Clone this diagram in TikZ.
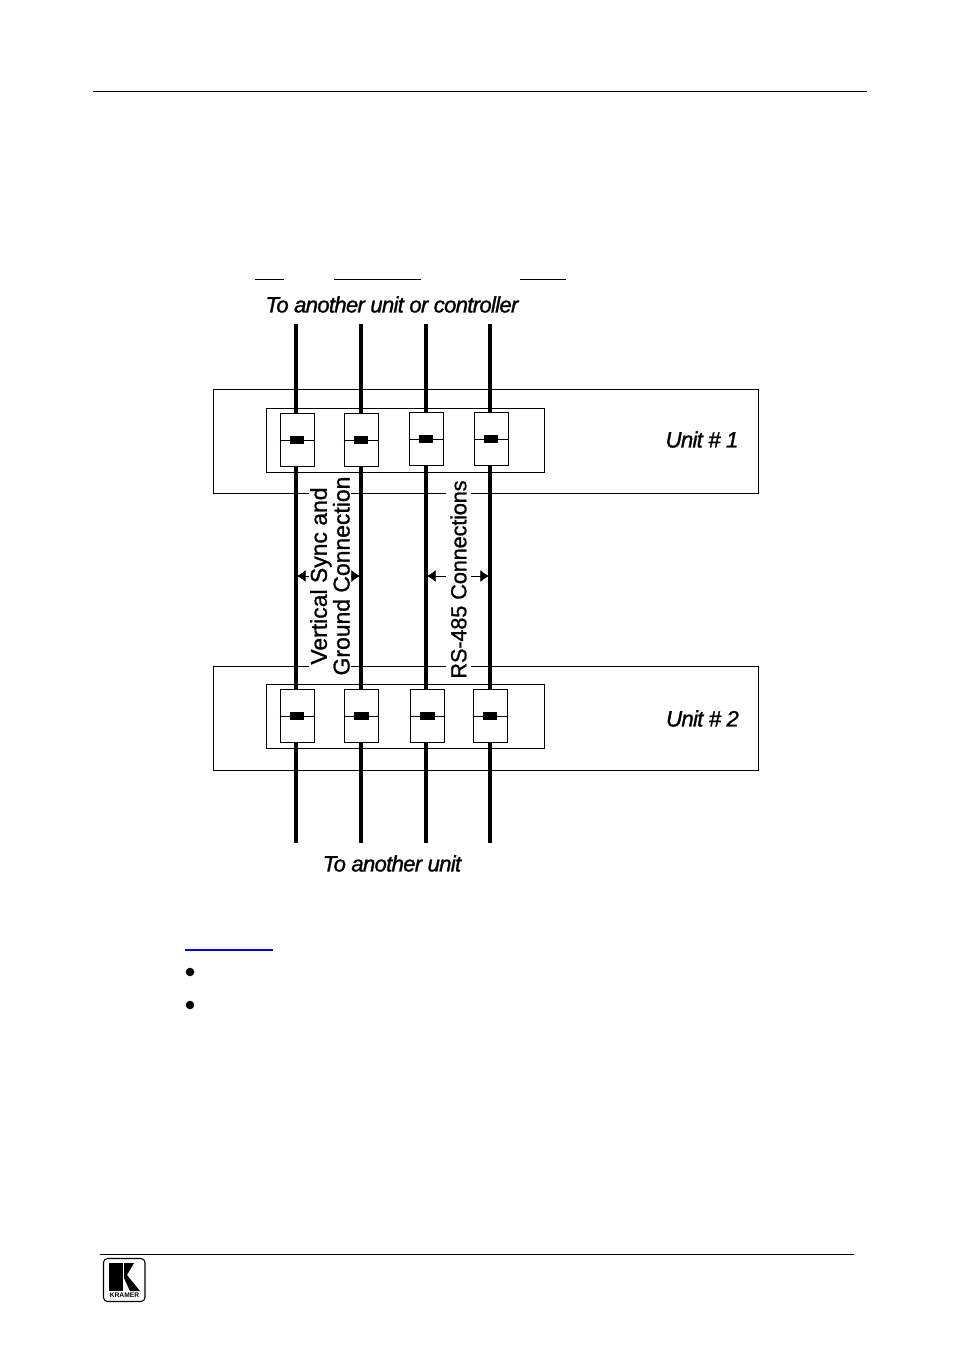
\documentclass[tikz,border=0pt]{standalone}
\usepackage{fontspec}
\setmainfont{Liberation Sans}
\newfontface\bigface[FakeBold=1.3,LetterSpace=-3.2]{Liberation Sans Italic}
\newfontface\sideface[FakeBold=1]{Liberation Sans}
\newfontface\rsface[FakeBold=1,LetterSpace=-1]{Liberation Sans}
\usepackage{tikz}
\usetikzlibrary{arrows.meta,positioning}
\tikzset{
	unitbox/.style={draw, line width=0.7pt, minimum width=408.5pt, minimum height=78pt, inner sep=0pt},
	panelbox/.style={draw, line width=0.7pt, minimum width=208.5pt, minimum height=48pt, inner sep=0pt},
	portbox/.style={draw, fill=white, line width=0.7pt, minimum width=25.5pt, minimum height=39.5pt, inner sep=0pt},
	contact/.style={fill=black, minimum width=11pt, minimum height=6pt, inner sep=0pt},
	wire/.style={line width=2.3pt},
	thickwire/.style={line width=2.7pt},
	biglabel/.style={font=\fontsize{16.6pt}{18pt}\bigface, inner sep=0pt},
	sidelabel/.style={fill=white, rotate=90, align=center, inner xsep=0pt, inner ysep=1pt},
	span/.style={line width=0.6pt, {Latex[length=6.5pt,width=9pt]}-{Latex[length=6.5pt,width=9pt]}}
}
\newcommand{\port}[3]{% name, x, y
	\node[portbox] (#1) at (#2,#3) {};
	\draw[line width=0.7pt] (#1.west) -- (#1.east);
	\node[contact] at (#1) {};
}
\begin{document}
\begin{tikzpicture}[x=0.75pt,y=-0.75pt]
	\useasboundingbox (0,0) rectangle (954,1354);
	% page rules
	\draw[line width=0.7pt] (93,91) -- (867,91);
	\draw[line width=0.7pt] (100,1254) -- (854,1254);
	\draw[line width=0.7pt] (255,279) -- (284,279);
	\draw[line width=0.7pt] (334,279) -- (421,279);
	\draw[line width=0.7pt] (520,279) -- (566,279);
	\draw[blue, line width=0.9pt] (185,950) -- (273,950);
	\fill (190,972) circle (3.2pt);
	\fill (190,1005) circle (3.2pt);
	% units
	\node[unitbox] (unit1) at (485.7,441) {};
	\node[unitbox] (unit2) at (485.7,718) {};
	\node[panelbox] (panel1) at (405,440) {};
	\node[panelbox] (panel2) at (405,716) {};
	% span arrows, then labels over them
	\coordinate (lefta) at (297,576);
	\coordinate (leftb) at (360,576);
	\coordinate (righta) at (427,576);
	\coordinate (rightb) at (489,576);
	\draw[span] (lefta) -- (leftb);
	\draw[span] (righta) -- (rightb);
	\node[sidelabel, font=\fontsize{17.2pt}{16pt}\sideface] (syncl) at (330,576) {Vertical Sync and\\Ground Connection};
	\node[sidelabel, font=\fontsize{16.4pt}{16pt}\rsface, inner ysep=3pt] (rsl) at (458.5,579.5) {RS-485 Connections};
	% wires
	\coordinate (top1) at (296,324);
	\coordinate (top2) at (361,324);
	\coordinate (top3) at (426,324);
	\coordinate (top4) at (490,324);
	\coordinate (bot1) at (296,843);
	\coordinate (bot2) at (361,843);
	\coordinate (bot3) at (426,843);
	\coordinate (bot4) at (490,843);
	\draw[thickwire] (top1) -- (bot1);
	\draw[wire] (top2) -- (bot2);
	\draw[thickwire] (top3) -- (bot3);
	\draw[wire] (top4) -- (bot4);
	% ports
	\port{pa}{297}{440}
	\port{pb}{361}{440}
	\port{pc}{426}{439}
	\port{pd}{491}{439}
	\port{qa}{297}{716}
	\port{qb}{361.5}{716}
	\port{qc}{427.5}{716}
	\port{qd}{490}{716}
	% labels
	\node[biglabel] (toctl) at (392,304.5) {To another unit or controller};
	\node[biglabel] (tounit) at (392,863.5) {To another unit};
	\node[biglabel] (name1) at (702,439.5) {Unit \# 1};
	\node[biglabel] (name2) at (702.5,718.5) {Unit \# 2};
	% logo
	\draw[line width=0.8pt, rounded corners=3pt] (103.5,1258.5) rectangle (145,1301.5);
	\fill (109,1263) rectangle (123,1291);
	\fill (124,1263) -- (134,1263) -- (127,1275) -- (140,1291) -- (130,1291) -- (124,1278) -- cycle;
	\node[font=\fontsize{5pt}{5pt}\selectfont\bfseries, inner sep=0pt] (logotext) at (124.5,1295) {KRAMER};
\end{tikzpicture}
\end{document}
